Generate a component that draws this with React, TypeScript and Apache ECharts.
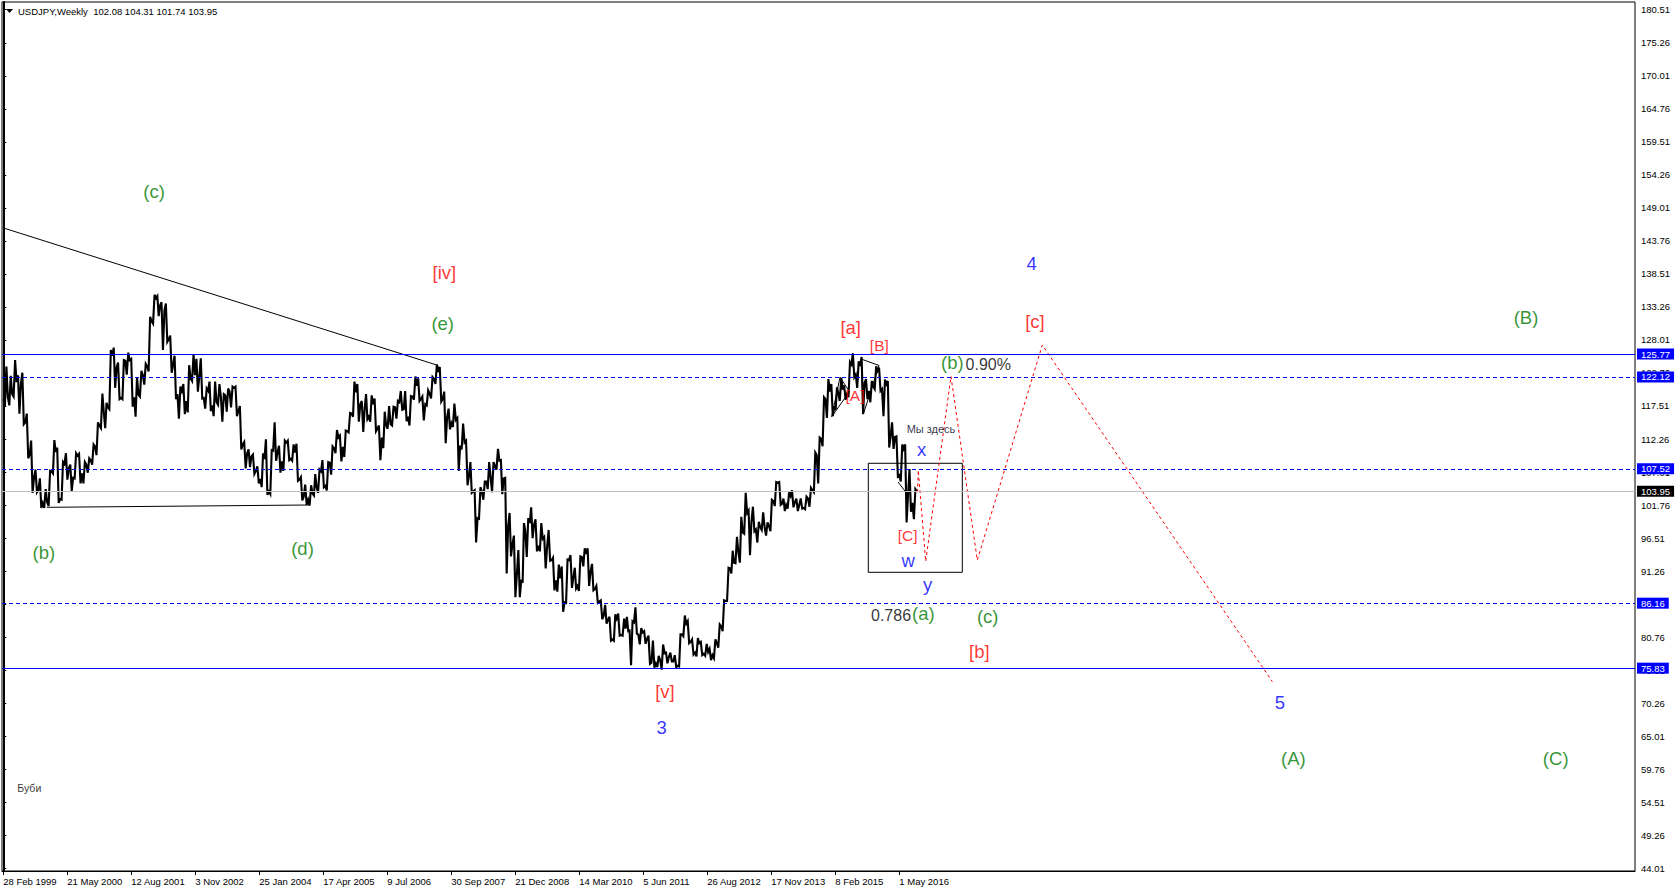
import React, { useEffect, useRef } from 'react';
import * as echarts from 'echarts';

const FONT = '"Liberation Sans", Arial, sans-serif';

// Monthly USDJPY [open, high, low, close]
const y1999 = [
  [118.6, 123.8, 117.5, 118.9], [118.9, 122.3, 117.6, 119.4], [119.4, 124.8, 119.0, 121.3],
  [121.3, 122.4, 116.3, 121.0], [121.0, 122.8, 114.6, 114.9], [114.9, 116.3, 109.2, 109.8],
  [109.8, 112.0, 103.7, 106.1], [106.1, 107.4, 103.8, 104.2], [104.2, 106.0, 101.3, 102.1],
  [102.1, 104.3, 101.3, 102.2],
];
const y2000 = [
  [102.2, 107.2, 101.6, 107.1], [107.1, 112.1, 106.8, 110.2], [110.2, 110.9, 102.1, 102.7],
  [102.7, 108.6, 102.6, 108.3], [108.3, 110.0, 105.8, 107.6], [107.6, 108.2, 104.0, 106.1],
  [106.1, 110.0, 106.0, 109.6], [109.6, 109.9, 105.2, 106.8], [106.8, 108.6, 105.2, 108.2],
  [108.2, 109.2, 106.9, 108.9], [108.9, 111.4, 108.2, 111.1], [111.1, 114.9, 109.7, 114.4],
];
const y2001 = [
  [114.4, 119.5, 114.0, 116.4], [116.4, 118.0, 114.0, 117.3], [117.3, 126.4, 117.0, 125.5],
  [125.5, 126.8, 120.4, 123.6], [123.6, 124.4, 118.6, 118.8], [118.8, 124.8, 118.6, 124.7],
  [124.7, 126.0, 122.5, 124.8], [124.8, 125.0, 117.4, 118.9], [118.9, 122.1, 115.8, 119.3],
  [119.3, 123.1, 119.0, 122.4], [122.4, 124.2, 120.9, 123.8], [123.8, 131.7, 123.0, 131.0],
];
const y2002 = [
  [131.0, 135.2, 130.6, 134.7], [134.7, 135.0, 131.8, 133.5], [133.5, 134.0, 126.4, 132.7],
  [132.7, 133.8, 127.7, 128.1], [128.1, 128.7, 122.8, 124.1], [124.1, 125.5, 118.6, 119.4],
  [119.4, 120.6, 115.5, 119.9], [119.9, 121.0, 116.2, 118.3], [118.3, 124.0, 116.5, 121.9],
  [121.9, 125.7, 121.5, 122.4], [122.4, 125.0, 119.8, 122.2], [122.2, 125.1, 118.7, 118.8],
];
const y2003 = [
  [118.8, 120.3, 117.1, 119.9], [119.9, 121.4, 116.7, 117.6], [117.6, 121.4, 115.9, 118.1],
  [118.1, 121.0, 117.7, 119.0], [119.0, 119.4, 115.0, 119.2], [119.2, 120.3, 116.6, 119.8],
  [119.8, 120.6, 117.3, 120.4], [120.4, 120.6, 115.9, 116.8], [116.8, 117.5, 110.6, 111.4],
  [111.4, 111.8, 107.6, 110.0], [110.0, 110.6, 107.8, 109.5], [109.5, 109.8, 106.7, 107.2],
];
const y2004 = [
  [107.2, 107.9, 105.2, 105.9], [105.9, 110.0, 104.6, 109.1], [109.1, 112.2, 103.4, 103.9],
  [103.9, 110.5, 103.5, 110.4], [110.4, 114.9, 108.8, 110.2], [110.2, 111.2, 106.9, 108.7],
  [108.7, 112.0, 107.2, 111.7], [111.7, 112.0, 108.9, 109.1], [109.1, 111.4, 108.8, 110.1],
  [110.1, 111.5, 105.6, 105.8], [105.8, 106.2, 102.5, 103.1], [103.1, 105.0, 101.8, 102.6],
];
const y2005 = [
  [102.6, 104.9, 101.7, 103.6], [103.6, 106.7, 103.3, 104.6], [104.6, 107.4, 103.7, 107.1],
  [107.1, 108.9, 104.6, 104.8], [104.8, 108.6, 104.1, 108.5], [108.5, 111.1, 106.6, 110.8],
  [110.8, 113.7, 110.0, 112.5], [112.5, 112.8, 108.7, 111.0], [111.0, 113.6, 109.4, 113.5],
  [113.5, 116.4, 113.3, 116.3], [116.3, 121.4, 115.8, 119.7], [119.7, 121.0, 115.0, 117.8],
];
const y2006 = [
  [117.8, 118.3, 113.4, 117.2], [117.2, 119.4, 115.4, 115.8], [115.8, 119.2, 115.0, 117.8],
  [117.8, 118.7, 113.5, 113.9], [113.9, 114.4, 108.9, 112.5], [112.5, 116.6, 110.8, 114.4],
  [114.4, 117.5, 113.9, 114.6], [114.6, 117.4, 114.4, 117.3], [117.3, 118.3, 115.5, 118.1],
  [118.1, 119.9, 116.9, 117.0], [117.0, 119.9, 115.1, 115.8], [115.8, 119.1, 114.4, 119.0],
];
const y2007 = [
  [119.0, 122.2, 118.5, 120.7], [120.7, 121.9, 118.3, 118.6], [118.6, 119.0, 115.2, 117.8],
  [117.8, 120.0, 117.6, 119.5], [119.5, 122.1, 118.7, 121.8], [121.8, 124.1, 121.0, 123.2],
  [123.2, 123.7, 118.2, 118.6], [118.6, 119.8, 111.6, 115.8], [115.8, 117.1, 113.8, 114.8],
  [114.8, 117.9, 114.2, 115.3], [115.3, 115.6, 107.2, 111.2], [111.2, 114.7, 110.6, 111.7],
];
const y2008 = [
  [111.7, 112.0, 104.9, 106.4], [106.4, 108.6, 103.7, 103.9], [103.9, 104.1, 95.8, 99.7],
  [99.7, 104.6, 99.6, 103.9], [103.9, 105.5, 102.6, 105.5], [105.5, 108.6, 104.3, 106.2],
  [106.2, 108.6, 103.8, 108.0], [108.0, 110.7, 107.4, 108.8], [108.8, 108.9, 103.5, 106.0],
  [106.0, 106.1, 90.9, 98.4], [98.4, 100.5, 93.6, 95.5], [95.5, 96.9, 87.1, 90.7],
];
const y2009 = [
  [90.7, 94.6, 87.1, 89.9], [89.9, 98.9, 89.4, 97.6], [97.6, 99.7, 93.5, 98.9],
  [98.9, 101.4, 96.5, 98.6], [98.6, 99.5, 94.4, 95.3], [95.3, 98.9, 94.4, 96.4],
  [96.4, 96.7, 91.7, 95.2], [95.2, 97.8, 92.9, 93.0], [93.0, 93.4, 88.2, 89.8],
  [89.8, 92.3, 88.0, 90.1], [90.1, 92.0, 84.8, 86.3], [86.3, 93.1, 86.2, 93.0],
];
const y2010 = [
  [93.0, 93.8, 88.6, 90.3], [90.3, 91.8, 88.5, 88.9], [88.9, 93.6, 88.1, 93.5],
  [93.5, 94.9, 92.0, 94.0], [94.0, 94.9, 88.9, 91.2], [91.2, 92.4, 88.2, 88.4],
  [88.4, 88.9, 86.2, 86.4], [86.4, 86.6, 83.6, 84.2], [84.2, 85.9, 82.9, 83.5],
  [83.5, 84.0, 80.2, 80.4], [80.4, 84.4, 80.2, 83.7], [83.7, 84.5, 81.0, 81.1],
];
const y2011 = [
  [81.1, 83.7, 81.0, 82.1], [82.1, 84.0, 81.7, 81.8], [81.8, 83.3, 76.3, 83.1],
  [83.1, 85.5, 81.3, 81.2], [81.2, 82.2, 79.6, 81.5], [81.5, 81.7, 79.7, 80.5],
  [80.5, 81.0, 76.5, 76.7], [76.7, 80.2, 75.9, 76.6], [76.6, 77.8, 76.0, 77.1],
  [77.1, 79.6, 75.6, 78.2], [78.2, 78.3, 76.6, 77.6], [77.6, 78.3, 76.9, 76.9],
];
const y2012 = [
  [76.9, 77.9, 76.0, 76.2], [76.2, 81.2, 76.1, 81.2], [81.2, 84.2, 80.9, 82.9],
  [82.9, 83.3, 79.8, 80.0], [80.0, 80.4, 78.0, 78.3], [78.3, 80.6, 77.7, 79.8],
  [79.8, 80.0, 77.9, 78.1], [78.1, 79.7, 77.8, 78.4], [78.4, 78.9, 77.1, 77.9],
  [77.9, 80.4, 77.4, 79.8], [79.8, 82.8, 79.1, 82.5], [82.5, 86.6, 81.7, 86.5],
];
const y2013 = [
  [86.5, 91.8, 86.5, 91.7], [91.7, 94.5, 90.9, 92.6], [92.6, 96.7, 92.5, 94.2],
  [94.2, 99.9, 92.6, 97.4], [97.4, 103.7, 97.2, 100.5], [100.5, 100.9, 93.8, 99.1],
  [99.1, 101.5, 97.6, 97.9], [97.9, 99.1, 95.8, 98.2], [98.2, 100.6, 97.8, 98.3],
  [98.3, 99.0, 96.9, 98.4], [98.4, 102.6, 97.6, 102.4], [102.4, 105.4, 101.6, 105.3],
];
const y2014 = [
  [105.3, 105.4, 101.8, 102.0], [102.0, 102.8, 100.8, 101.8], [101.8, 103.8, 101.2, 103.2],
  [103.2, 104.1, 101.4, 102.2], [102.2, 102.8, 100.8, 101.8], [101.8, 102.8, 101.2, 101.3],
  [101.3, 103.1, 101.1, 102.8], [102.8, 104.5, 101.5, 104.1], [104.1, 110.1, 103.8, 109.7],
  [109.7, 112.5, 105.2, 112.3], [112.3, 118.9, 111.1, 118.6], [118.6, 121.8, 115.6, 119.8],
];
const y2015 = [
  [119.8, 121.0, 115.9, 117.5], [117.5, 120.5, 116.9, 119.6], [119.6, 122.0, 118.3, 120.1],
  [120.1, 120.8, 118.5, 119.4], [119.4, 124.5, 118.9, 124.1], [124.1, 125.9, 122.1, 122.5],
  [122.5, 124.6, 120.4, 123.9], [123.9, 125.3, 116.2, 121.2], [121.2, 121.8, 118.6, 119.9],
  [119.9, 121.5, 118.1, 120.6], [120.6, 123.8, 120.2, 123.1], [123.1, 123.6, 119.9, 120.2],
];
const y2016 = [
  [120.2, 121.7, 115.9, 121.0], [121.0, 121.5, 110.9, 112.7], [112.7, 114.9, 110.7, 112.6],
  [112.6, 112.7, 106.3, 106.5], [106.5, 111.4, 105.5, 110.7], [110.7, 111.4, 99.0, 103.2],
  [103.2, 107.5, 100.7, 102.1], [102.1, 104.31, 99.5, 103.95],
];

const lastWeek = [102.08, 104.31, 101.74, 103.95];

// time axis: week index counted from the week of 28 Feb 1999
const timeTickWeeks = [0, 64, 128, 192, 256, 320, 384, 448, 512, 576, 640, 704, 768, 832, 896];
const timeLabels = [
  '28 Feb 1999', '21 May 2000', '12 Aug 2001', '3 Nov 2002', '25 Jan 2004', '17 Apr 2005',
  '9 Jul 2006', '30 Sep 2007', '21 Dec 2008', '14 Mar 2010', '5 Jun 2011', '26 Aug 2012',
  '17 Nov 2013', '8 Feb 2015', '1 May 2016',
];
const priceTicks = [
  44.01, 49.26, 54.51, 59.76, 65.01, 70.26, 75.51, 80.76, 86.01, 91.26, 96.51, 101.76, 107.01,
  112.26, 117.51, 122.76, 128.01, 133.26, 138.51, 143.76, 149.01, 154.26, 159.51, 164.76,
  170.01, 175.26, 180.51,
];

const solidBlueLevels = [125.77, 75.83];
const dashedBlueLevels = [122.12, 107.52, 86.16];

// drawings [week, price]
const trendLine = [[-0.6, 145.85], [433.4, 124.03]];
const supportLine = [[43.4, 101.4], [306.7, 101.77]];
const triangle1 = [[828.4, 115.81], [836.7, 122.07], [846.2, 119.8], [828.4, 115.81]];
const triangle2 = [[857.7, 124.98], [875.7, 123.95], [860.2, 116.31], [857.7, 124.98]];
const smallLine = [[894.7, 105.43], [903.4, 103.63]];
const focusBox = [[865, 108.4], [959, 108.4], [959, 91.07], [865, 91.07], [865, 108.4]];
const forecastPath = [
  [914.2, 103.8], [915, 107.3], [922.4, 92.8], [947.7, 122.2], [974, 93.0], [1039, 127.2], [1269, 73.7],
];

// wave labels [week, price, text]
const greenLabels = [
  [150.7, 151.6, '(c)'], [439.4, 130.7, '(e)'], [40.5, 94.2, '(b)'], [299.2, 94.8, '(d)'],
  [949, 124.4, '(b)'], [920, 84.5, '(a)'], [984.4, 84.1, '(c)'], [1522.7, 131.6, '(B)'],
  [1290, 61.5, '(A)'], [1552.4, 61.4, '(C)'],
];
const redLabels = [
  [441, 138.8, '[iv]'], [847.4, 130.0, '[a]'], [976, 78.5, '[b]'], [1031.7, 131.0, '[c]'],
  [661.7, 72.1, '[v]'],
];
const redSmallLabels = [[876, 127.2, '[B]'], [851.7, 119.1, '[A]'], [904.4, 96.85, '[C]']];
const blueDigitLabels = [[658.4, 66.4, '3'], [1028.4, 140.2, '4'], [1276.7, 70.3, '5']];
const blueLetterLabels = [[918.4, 110.6, 'x'], [905, 92.9, 'w'], [924.4, 89.1, 'y']];
const ratioLabels = [[985, 124.1, '0.90%'], [887.7, 84.2, '0.786']];
const noteLabels = [[927.7, 113.8, 'Мы здесь']];
const signatureLabels = [[26, 56.7, 'Буби']];

function weekOf(y: number, m: number) {
  return (Date.UTC(y, m, 1) - Date.UTC(1999, 1, 28)) / (7 * 86400000);
}

function buildPricePoints() {
  const months = [
    ...y1999, ...y2000, ...y2001, ...y2002, ...y2003, ...y2004, ...y2005, ...y2006, ...y2007,
    ...y2008, ...y2009, ...y2010, ...y2011, ...y2012, ...y2013, ...y2014, ...y2015, ...y2016,
  ];
  const pts: number[][] = [];
  months.forEach((b, i) => {
    const abs = 2 + i;
    const yr = 1999 + Math.floor(abs / 12);
    const mo = abs % 12;
    const s = weekOf(yr, mo);
    const e = weekOf(yr, mo + 1);
    const w = e - s;
    const [o, h, l, c] = b;
    const up = c >= o;
    pts.push([s, o], [s + w / 3, up ? l : h], [s + (2 * w) / 3, up ? h : l], [e, c]);
  });
  return pts;
}

function lineSeries(data: number[][], color = '#000', type: any = 'solid') {
  return {
    type: 'line', data, symbol: 'none', silent: true, z: 4,
    lineStyle: { color, width: 1, type },
    emphasis: { disabled: true },
  };
}

function labelSeries(data: any[], color: string, fontSize: number) {
  return {
    type: 'scatter', symbol: 'circle', symbolSize: 1, silent: true, z: 10,
    itemStyle: { color: 'rgba(0,0,0,0)' },
    data: data.map((d) => ({ value: [d[0], d[1]], name: d[2] })),
    label: {
      show: true, position: 'inside', formatter: (p: any) => p.name, color, fontSize,
      fontFamily: FONT, align: 'center', verticalAlign: 'middle',
    },
    emphasis: { disabled: true },
  };
}

function tag(bg: string) {
  return {
    show: true, position: 'end', distance: 2,
    formatter: (p: any) => Number(p.value).toFixed(2),
    color: '#fff', backgroundColor: bg, padding: [1, 4, 0, 4], fontSize: 9.5, fontFamily: FONT,
  };
}

export default function App() {
  const ref = useRef<HTMLDivElement>(null);
  useEffect(() => {
    if (!ref.current) return;
    const chart = echarts.init(ref.current, undefined, { renderer: 'svg' });
    const option: any = {
      animation: false,
      backgroundColor: '#fff',
      grid: {
        left: 2, right: 41, top: 2, bottom: 21, show: true, borderColor: '#000', borderWidth: 1,
        containLabel: false, outerBoundsMode: 'none',
      },
      xAxis: {
        type: 'value', min: -1.3, max: 1631.7, position: 'bottom',
        axisLine: { show: true, lineStyle: { color: '#000', width: 1 } },
        axisTick: { show: true, customValues: timeTickWeeks, length: 4, lineStyle: { color: '#000' } },
        axisLabel: {
          show: true, customValues: timeTickWeeks, align: 'left', margin: 5, color: '#000',
          fontSize: 9.5, fontFamily: FONT,
          formatter: (v: number) => {
            const i = timeTickWeeks.indexOf(Math.round(v));
            return i >= 0 ? timeLabels[i] : '';
          },
        },
        splitLine: { show: false },
      },
      yAxis: {
        type: 'value', position: 'right', min: 43.58, max: 181.74, scale: true,
        axisLine: { show: true, lineStyle: { color: '#000', width: 2 } },
        axisTick: { show: true, customValues: priceTicks, length: 3, lineStyle: { color: '#000' } },
        axisLabel: {
          show: true, customValues: priceTicks, margin: 6, color: '#000', fontSize: 9.5, fontFamily: FONT,
          formatter: (v: number) => v.toFixed(2),
        },
        splitLine: { show: false },
      },
      graphic: [
        { type: 'polygon', shape: { points: [[6, 9], [13, 9], [9.5, 13]] }, style: { fill: '#000' } },
        {
          type: 'text', x: 18, y: 11,
          style: {
            text: 'USDJPY,Weekly\u00a0\u00a0' + lastWeek.map((v) => v.toFixed(2)).join(' '),
            fontSize: 9.5, fontFamily: FONT, fill: '#000', verticalAlign: 'middle',
          },
        },
      ],
      series: [
        {
          type: 'line', data: buildPricePoints(), symbol: 'none', silent: true, z: 3,
          lineStyle: { color: '#000', width: 2.1, join: 'miter', miterLimit: 4 },
          emphasis: { disabled: true },
          markLine: {
            silent: true, symbol: ['none', 'none'], animation: false,
            data: [
              ...solidBlueLevels.map((v) => ({
                yAxis: v, lineStyle: { color: '#0000ff', type: 'solid', width: 1 }, label: tag('#0000ff'),
              })),
              ...dashedBlueLevels.map((v) => ({
                yAxis: v, lineStyle: { color: '#0000ff', type: [4, 3], width: 1 }, label: tag('#0000ff'),
              })),
              {
                yAxis: lastWeek[3], lineStyle: { color: '#c0c0c0', type: 'solid', width: 1 }, label: tag('#000000'),
              },
            ],
          },
        },
        lineSeries(trendLine),
        lineSeries(supportLine),
        lineSeries(triangle1),
        lineSeries(triangle2),
        lineSeries(smallLine),
        lineSeries(focusBox),
        lineSeries(forecastPath, '#ff0000', [3, 3]),
        labelSeries(greenLabels, '#007a00', 18.5),
        labelSeries(redLabels, '#ff0000', 18.5),
        labelSeries(redSmallLabels, '#ff0000', 15.5),
        labelSeries(blueDigitLabels, '#0000ff', 18.5),
        labelSeries(blueLetterLabels, '#0000ff', 18.5),
        labelSeries(ratioLabels, '#000000', 16),
        labelSeries(noteLabels, '#000020', 11),
        labelSeries(signatureLabels, '#000000', 10.5),
      ],
    };
    chart.setOption(option);
    return () => chart.dispose();
  }, []);
  return (
    <div
      ref={ref}
      style={{ position: 'fixed', left: 0, top: 0, width: 1676, height: 892, background: '#fff' }}
    />
  );
}
